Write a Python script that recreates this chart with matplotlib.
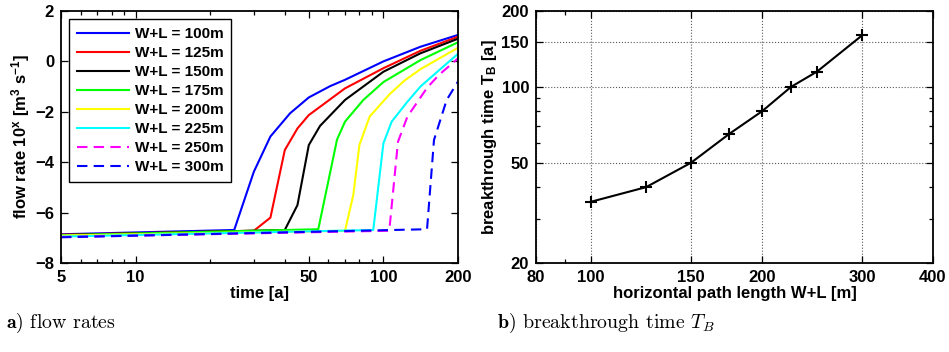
import numpy as np
import matplotlib
matplotlib.use("Agg")
import matplotlib.pyplot as plt
from matplotlib.ticker import LogLocator, NullFormatter

# --- data --------------------------------------------------------------
labels = ["W+L = 100m", "W+L = 125m", "W+L = 150m", "W+L = 175m",
          "W+L = 200m", "W+L = 225m", "W+L = 250m", "W+L = 300m"]

t_100 = [5, 25, 30, 35, 42, 50, 61, 70, 100, 141, 200]
q_100 = [-6.86, -6.69, -4.38, -2.98, -2.06, -1.43, -0.98, -0.73, 0.0, 0.58, 1.05]

t_125 = [5, 30, 35, 40, 45, 50, 70, 100, 141, 200]
q_125 = [-6.88, -6.72, -6.20, -3.52, -2.66, -2.13, -1.07, -0.27, 0.42, 0.98]

t_150 = [5, 40, 45, 50, 55.5, 70, 100, 141, 200]
q_150 = [-6.89, -6.69, -5.70, -3.32, -2.56, -1.53, -0.41, 0.32, 0.90]

t_175 = [5, 54.6, 65, 70, 83, 100, 141, 200]
q_175 = [-6.90, -6.66, -3.10, -2.39, -1.53, -0.82, 0.05, 0.76]

t_200 = [5, 70, 75.6, 80, 88, 106, 122, 141, 200]
q_200 = [-6.91, -6.72, -5.30, -3.32, -2.19, -1.30, -0.75, -0.31, 0.54]

t_225 = [5, 91, 100, 108, 125, 141, 170, 200]
q_225 = [-6.95, -6.69, -3.25, -2.39, -1.60, -1.00, -0.30, 0.30]

t_250 = [5, 105.6, 114.5, 125, 150, 167, 200]
q_250 = [-6.97, -6.72, -3.19, -2.19, -1.05, -0.55, 0.12]

t_300 = [5, 150, 160, 180, 200]
q_300 = [-6.98, -6.66, -3.12, -1.53, -0.80]

path_len = [100, 125, 150, 175, 200, 225, 250, 300]
t_break = [35, 40, 50, 65, 80, 100, 115, 160]

series = [(t_100, q_100, "#0000ff", "-"),
          (t_125, q_125, "#ff0000", "-"),
          (t_150, q_150, "#000000", "-"),
          (t_175, q_175, "#00ff00", "-"),
          (t_200, q_200, "#ffff00", "-"),
          (t_225, q_225, "#00ffff", "-"),
          (t_250, q_250, "#ff00ff", (0, (5, 3))),
          (t_300, q_300, "#0000ff", (0, (5, 3)))]

# --- style ------------------------------------------------------------
plt.rcParams["font.family"] = ["Liberation Sans", "DejaVu Sans"]
plt.rcParams["font.weight"] = "bold"
plt.rcParams["font.size"] = 12
plt.rcParams["mathtext.fontset"] = "custom"
plt.rcParams["mathtext.rm"] = "Liberation Sans:bold"
plt.rcParams["mathtext.bf"] = "Liberation Sans:bold"
plt.rcParams["mathtext.it"] = "Liberation Sans:bold"
plt.rcParams["axes.linewidth"] = 1.3


def style_axes(ax):
    ax.tick_params(which="both", direction="in", top=True, right=True,
                   width=0.9, pad=5, labelsize=12)
    ax.tick_params(which="major", length=5)
    ax.tick_params(which="minor", length=3)
    for lab in ax.get_xticklabels() + ax.get_yticklabels():
        lab.set_fontweight("bold")


fig = plt.figure(figsize=(9.49, 3.52), dpi=100)

# a) flow rates
ax1 = fig.add_axes([61 / 949, 89 / 352, 397 / 949, 252 / 352])
for (t, q, c, ls), lab in zip(series, labels):
    ax1.plot(t, q, color=c, linestyle=ls, lw=1.5, label=lab)
ax1.set_xscale("log")
ax1.set_xlim(5, 200)
ax1.set_ylim(-8, 2)
ax1.set_xticks([5, 10, 50, 100, 200])
ax1.set_xticklabels(["5", "10", "50", "100", "200"])
ax1.xaxis.set_minor_locator(LogLocator(base=10, subs=np.arange(1, 10)))
ax1.xaxis.set_minor_formatter(NullFormatter())
ax1.set_yticks([-8, -6, -4, -2, 0, 2])
ax1.set_yticklabels(["\u22128", "\u22126", "\u22124", "\u22122", "0", "2"])
ax1.set_xlabel("time [a]", fontweight="bold", labelpad=1)
ax1.set_ylabel(r"flow rate 10$^{x}$ [m$^{3}$ s$^{-1}$]", fontweight="bold", labelpad=2)
style_axes(ax1)
leg = ax1.legend(loc="upper left", fancybox=False, edgecolor="black",
                 framealpha=1, handlelength=3.4, labelspacing=0.33,
                 borderaxespad=0.55, borderpad=0.5, handletextpad=0.4,
                 prop={"weight": "bold", "size": 11})
leg.get_frame().set_linewidth(1.0)

# b) breakthrough time
ax2 = fig.add_axes([536 / 949, 89 / 352, 397 / 949, 252 / 352])
ax2.plot(path_len, t_break, color="black", lw=1.5, marker="+",
         markersize=9, markeredgewidth=1.5)
ax2.set_xscale("log")
ax2.set_yscale("log")
ax2.set_xlim(80, 400)
ax2.set_ylim(20, 200)
ax2.set_xticks([80, 100, 150, 200, 300, 400])
ax2.set_xticklabels(["80", "100", "150", "200", "300", "400"])
ax2.set_yticks([20, 50, 100, 150, 200])
ax2.set_yticklabels(["20", "50", "100", "150", "200"])
ax2.xaxis.set_minor_locator(LogLocator(base=10, subs=np.arange(1, 10)))
ax2.yaxis.set_minor_locator(LogLocator(base=10, subs=np.arange(1, 10)))
ax2.xaxis.set_minor_formatter(NullFormatter())
ax2.yaxis.set_minor_formatter(NullFormatter())
ax2.grid(True, which="major", linestyle=":", color="0.35", lw=0.8)
ax2.set_xlabel("horizontal path length W+L [m]", fontweight="bold", labelpad=1)
ax2.set_ylabel(r"breakthrough time T$_{B}$ [a]", fontweight="bold", labelpad=2)
style_axes(ax2)

# captions
fig.text(6 / 949, 1 - 323 / 352, r"$\mathbf{a)}$ flow rates", family="cmr10",
         math_fontfamily="cm", fontsize=14.3, fontweight="normal", va="center")
fig.text(497 / 949, 1 - 323 / 352, r"$\mathbf{b)}$ breakthrough time $T_B$",
         family="cmr10", math_fontfamily="cm", fontsize=14.3,
         fontweight="normal", va="center")

fig.savefig("out.png", dpi=100)
